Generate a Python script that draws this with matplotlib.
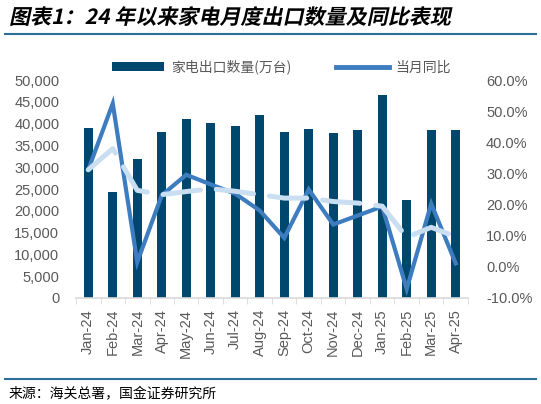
import matplotlib
matplotlib.use("Agg")
import matplotlib.pyplot as plt
from matplotlib.lines import Line2D
from matplotlib.patches import Patch, PathPatch
from matplotlib.textpath import TextPath
from matplotlib.font_manager import FontProperties
from matplotlib.transforms import Affine2D
import numpy as np

plt.rcParams['font.family'] = ['Liberation Sans', 'Noto Sans CJK SC', 'DejaVu Sans']

# ---- 数据 ----
months = ['Jan-24', 'Feb-24', 'Mar-24', 'Apr-24', 'May-24', 'Jun-24', 'Jul-24', 'Aug-24',
          'Sep-24', 'Oct-24', 'Nov-24', 'Dec-24', 'Jan-25', 'Feb-25', 'Mar-25', 'Apr-25']
export_qty = [39100, 24300, 31900, 38100, 41200, 40100, 39500, 41900,
              38100, 38800, 37800, 38500, 46600, 22600, 38500, 38500]   # 万台
yoy = [31.2, 52.5, 1.5, 23.0, 29.6, 26.5, 23.5, 18.1,
       9.3, 24.9, 13.6, 16.5, 19.4, -7.1, 20.3, 1.1]                     # %
yoy_trend = [31.2, 38.0, 24.6, 23.2, 24.2, 25.1, 24.3, 23.2,
             22.1, 22.1, 21.0, 20.5, 19.5, 9.5, 12.7, 9.7]               # %

bar_color = '#00476E'
line_color = '#3D7DBF'
trend_color = '#C9DEF0'
grey = '#595959'

fig = plt.figure(figsize=(5.41, 4.04), dpi=100)
ax = fig.add_axes([0.1405, 0.2625, 0.7245, 0.539])
ax2 = ax.twinx()

x = np.arange(len(months))
ax.bar(x, export_qty, width=0.37, color=bar_color, zorder=2)
ax.set_xlim(-0.5, len(months) - 0.5)
ax.set_ylim(0, 50000)
ax.set_yticks(np.arange(0, 50001, 5000))
ax.set_yticklabels(['{:,}'.format(v) for v in range(0, 50001, 5000)])

ax2.plot(x, yoy, color=line_color, lw=3.0, solid_joinstyle='miter', zorder=3)
ax2.plot(x, yoy_trend, color=trend_color, lw=3.6, linestyle=(0, (7.5, 3.2)),
         dash_capstyle='round', zorder=4)
ax2.set_ylim(-10, 60)
ax2.set_yticks(np.arange(-10, 61, 10))
ax2.set_yticklabels(['{:.1f}%'.format(v) for v in range(-10, 61, 10)])

ax.set_xticks(x)
ax.set_xticklabels(months, rotation=90)
ax.set_xticks(np.arange(-0.5, len(months), 1), minor=True)
ax.tick_params(axis='x', which='major', length=0, pad=8, labelsize=10.5, labelcolor=grey)
ax.tick_params(axis='x', which='minor', length=4, color='#D9D9D9', direction='out')
ax.tick_params(axis='y', length=0, pad=12, labelsize=10.5, labelcolor=grey)
ax2.tick_params(axis='y', length=0, pad=13, labelsize=10.5, labelcolor=grey)

for a in (ax, ax2):
    for s in ['top', 'left', 'right']:
        a.spines[s].set_visible(False)
ax.spines['bottom'].set_color('#D9D9D9')
ax.spines['bottom'].set_linewidth(1.2)
ax2.spines['bottom'].set_visible(False)

# 图例
handles = [Patch(facecolor=bar_color, edgecolor='none'),
           Line2D([0], [0], color=line_color, lw=3.5)]
leg = fig.legend(handles, ['家电出口数量(万台)', '当月同比'], ncol=2, frameon=False,
                 loc='center', bbox_to_anchor=(0.52, 0.834), handlelength=3.8,
                 handleheight=0.55, handletextpad=0.5, columnspacing=3.2,
                 prop={'family': ['Noto Sans CJK SC'], 'size': 10})
for t in leg.get_texts():
    t.set_color(grey)

# 标题（斜体：用路径加错切）
title_fp = FontProperties(family='Noto Sans CJK SC', weight='bold', size=15)
title_path = TextPath((0, 0), '图表1：24 年以来家电月度出口数量及同比表现', prop=title_fp)
px_per_pt = fig.dpi / 72.0
title_tr = (Affine2D().skew_deg(12, 0).scale(px_per_pt * 1.01, px_per_pt)
            .translate(9, 404 - 24))
fig.add_artist(PathPatch(title_path, facecolor='black', edgecolor='none',
                         transform=title_tr))

fig.add_artist(Line2D([0.01, 0.99], [0.917, 0.917], color='#2B6E96', lw=1.5))
fig.add_artist(Line2D([0.01, 0.99], [0.062, 0.062], color='#2B6E96', lw=1.5))
fig.text(0.016, 0.025, '来源：海关总署，国金证券研究所', fontsize=10,
         family=['Noto Sans CJK SC', 'DejaVu Sans'], va='center', ha='left', color='black')

fig.savefig('out.png', dpi=100)
